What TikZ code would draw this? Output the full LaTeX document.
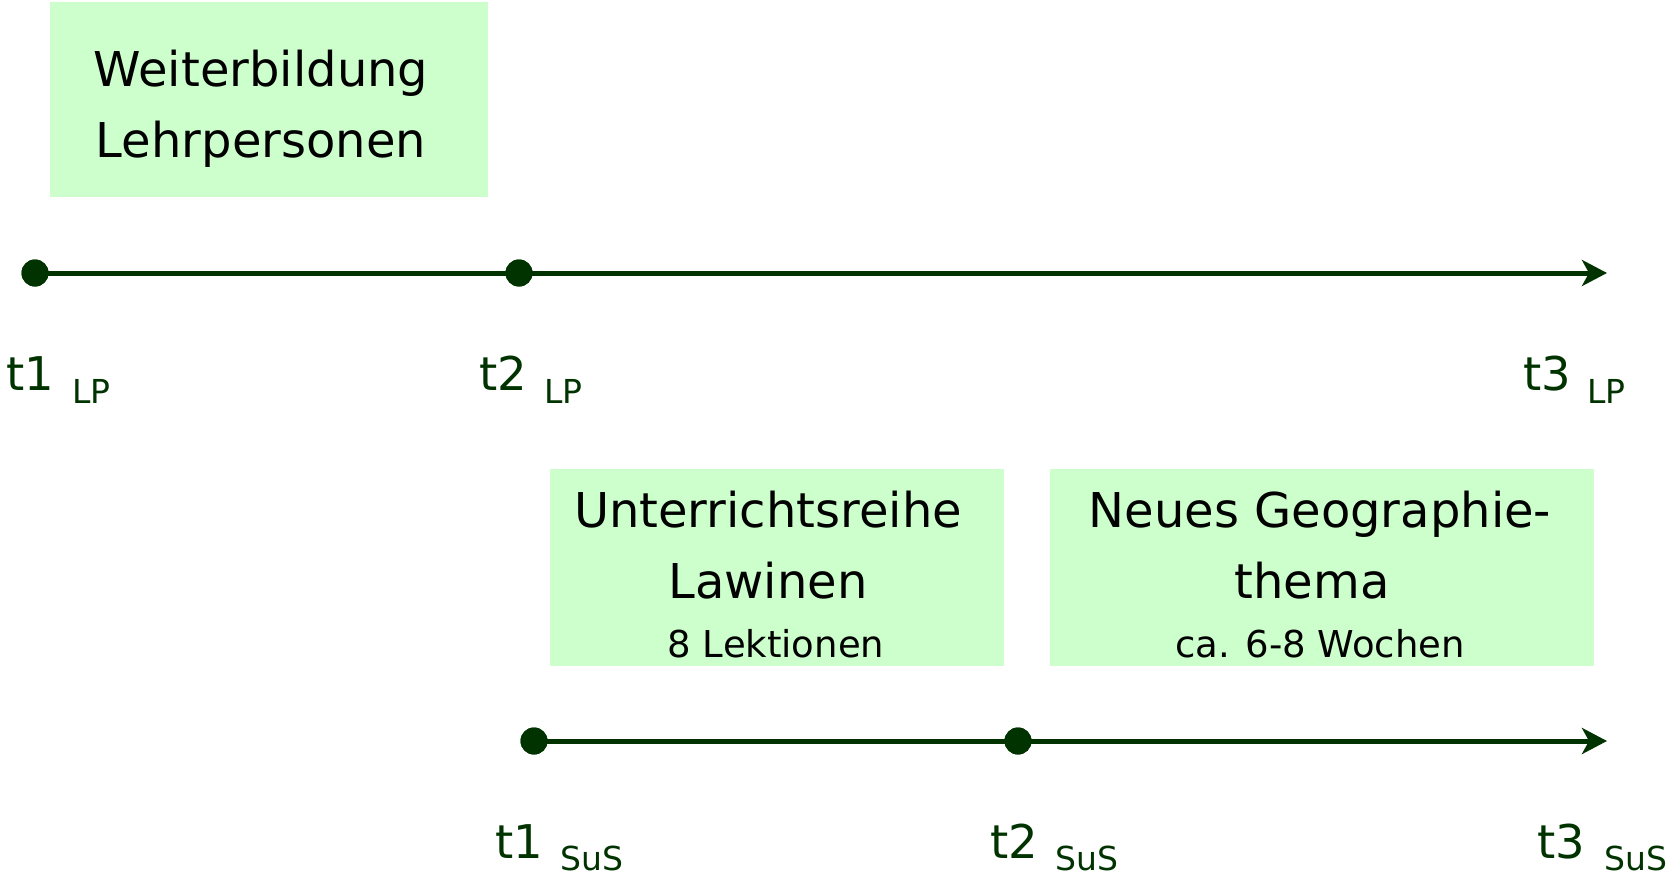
\documentclass[tikz,border=0pt]{standalone}
\usepackage{fontspec}
\setmainfont{DejaVu Sans}
\usetikzlibrary{arrows.meta}

\definecolor{axisgreen}{RGB}{0,51,0}
\definecolor{phasefill}{RGB}{204,255,204}

\tikzset{
  phase/.style={fill=phasefill, draw=none, inner sep=0pt, anchor=north west},
  bigtext/.style={anchor=base, inner sep=0pt, text=black, font=\fontsize{48}{58}\selectfont},
  smalltext/.style={anchor=base, inner sep=0pt, text=black, font=\fontsize{37}{44}\selectfont},
  tlabel/.style={anchor=base west, inner sep=0pt, text=axisgreen, font=\fontsize{46.5}{56}\selectfont},
  sublabel/.style={anchor=base west, inner sep=0pt, text=axisgreen, font=\fontsize{33}{40}\selectfont},
  tick/.style={circle, fill=axisgreen, draw=none, minimum size=27pt, inner sep=0pt},
  axis/.style={draw=axisgreen, line width=5pt},
  axisarrow/.style={axis, -{Stealth[length=25pt, width=26pt, inset=7pt]}}
}

\begin{document}
\begin{tikzpicture}[x=1pt, y=-1pt]
  \useasboundingbox (0,0) rectangle (1671,875);

  % phase boxes
  \node[phase, minimum width=438pt, minimum height=195pt] (lpbox) at (50,2) {};
  \node[phase, minimum width=454pt, minimum height=197pt] (reihebox) at (550,469) {};
  \node[phase, minimum width=544pt, minimum height=197pt] (themabox) at (1050,469) {};

  % box texts
  \node[bigtext] (lp1) at (261,87) {Weiterbildung};
  \node[bigtext] (lp2) at (261,157) {Lehrpersonen};
  \node[bigtext] (re1) at (768,527) {Unterrichtsreihe};
  \node[bigtext] (re2) at (768,598) {Lawinen};
  \node[smalltext] (re3) at (776,657) {8 Lektionen};
  \node[bigtext] (th1) at (1320,527) {Neues Geographie-};
  \node[bigtext] (th2) at (1312,598) {thema};
  \node[smalltext] (th3) at (1320,657) {ca. 6-8 Wochen};

  % teacher time line
  \node[tick] (lpA) at (35,273) {};
  \node[tick] (lpB) at (519,273) {};
  \coordinate (lpEnd) at (1607,273);
  \draw[axis] (lpA.center) -- (lpB.center);
  \draw[axisarrow] (lpB.center) -- (lpEnd);

  % student time line
  \node[tick] (susA) at (534,741) {};
  \node[tick] (susB) at (1018,741) {};
  \coordinate (susEnd) at (1607,741);
  \draw[axis] (susA.center) -- (susB.center);
  \draw[axisarrow] (susB.center) -- (susEnd);

  % redraw dots above the lines
  \foreach \p in {lpA,lpB,susA,susB} \fill[axisgreen] (\p) circle (13.5pt);

  % teacher labels
  \node[tlabel] (lt1) at (6,390) {t1};
  \node[sublabel] (ls1) at (72,403) {LP};
  \node[tlabel] (lt2) at (479,390) {t2};
  \node[sublabel] (ls2) at (544,403) {LP};
  \node[tlabel] (lt3) at (1523,390) {t3};
  \node[sublabel] (ls3) at (1587,403) {LP};

  % student labels
  \node[tlabel] (st1) at (495,858) {t1};
  \node[sublabel] (ss1) at (560,870) {SuS};
  \node[tlabel] (st2) at (990,858) {t2};
  \node[sublabel] (ss2) at (1055,870) {SuS};
  \node[tlabel] (st3) at (1537,858) {t3};
  \node[sublabel] (ss3) at (1604,870) {SuS};
\end{tikzpicture}
\end{document}
